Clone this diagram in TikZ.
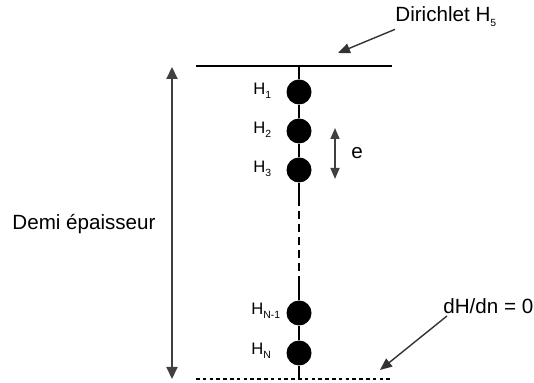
\documentclass[tikz,border=0pt]{standalone}
\usepackage{fontspec}
\setmainfont{Liberation Sans}
\usepackage{tikz}
\usetikzlibrary{arrows.meta, positioning}

\newcommand{\hsub}[1]{\raisebox{-0.45ex}{\fontsize{5.2}{6}\selectfont #1}}

\begin{document}
\begin{tikzpicture}[
    x=0.5pt, y=-0.5pt,
    % Styles
    grain/.style={circle, fill=black, minimum size=12.5pt, inner sep=0pt},
    hlabel/.style={anchor=west, inner sep=1pt, font=\fontsize{8.3}{10}\selectfont},
    txt/.style={inner sep=1pt, font=\fontsize{10.3}{12}\selectfont},
    axis/.style={line width=0.7pt},
    arrow/.style={-{Triangle[width=5pt,length=6pt]}, line width=0.7pt, draw=black!80},
    span/.style={{Triangle[width=5.5pt,length=6pt]}-{Triangle[width=5.5pt,length=6pt]}, line width=1pt, draw=black!75}
]
    \useasboundingbox (0,0) rectangle (534,383);

    % --- Boundaries ---
    \coordinate (topL) at (196,66);
    \coordinate (topR) at (392,66);
    \coordinate (topM) at (299,66);
    \coordinate (botL) at (196,379);
    \coordinate (botR) at (392,379);
    \coordinate (botM) at (299,379);
    \draw[line width=1pt] (topL) -- (topR);
    \draw[line width=1.2pt, dash pattern=on 1.8pt off 1.6pt] (botL) -- (botR);

    % --- Nodes of the mesh ---
    \node[grain] (h1) at (299,92) {};
    \node[grain] (h2) at (299,131) {};
    \node[grain] (h3) at (299,170) {};
    \node[grain] (hn1) at (299,313) {};
    \node[grain] (hn) at (299,353) {};

    \node[hlabel] (lh1) at (251,91) {H\hsub{1}};
    \node[hlabel] (lh2) at (251,130) {H\hsub{2}};
    \node[hlabel] (lh3) at (251,169) {H\hsub{3}};
    \node[hlabel] (lhn1) at (249,311) {H\hsub{N-1}};
    \node[hlabel] (lhn) at (249,351) {H\hsub{N}};

    % Vertical axis
    \coordinate (dashA) at (299,198);
    \coordinate (dashB) at (299,278);
    \draw[axis] (topM) -- (h1) -- (h2) -- (h3) -- (dashA);
    \draw[axis, dash pattern=on 4pt off 2.5pt] (dashA) -- (dashB);
    \draw[axis] (dashB) -- (hn1) -- (hn) -- (botM);

    % --- Spacing e ---
    \coordinate (eTop) at (335,128);
    \coordinate (eBot) at (335,179);
    \draw[span, line width=0.8pt, {Triangle[width=4.5pt,length=5.5pt]}-{Triangle[width=4.5pt,length=5.5pt]}] (eTop) -- (eBot);
    \node[txt] (elbl) at (357,153) {e};

    % --- Half thickness ---
    \coordinate (thTop) at (172,67);
    \coordinate (thBot) at (172,379);
    \draw[span] (thTop) -- (thBot);
    \node[txt] (demi) at (84,224) {Demi épaisseur};

    % --- Boundary conditions ---
    \node[txt, anchor=west] (dir) at (393,17) {Dirichlet H\hsub{5}};
    \coordinate (tipD) at (338,53);
    \draw[arrow] ([xshift=1pt]dir.south west) -- (tipD);

    \node[txt, anchor=west] (neu) at (441,306) {dH/dn = 0};
    \coordinate (tipN) at (380,370);
    \draw[arrow] ([xshift=3pt]neu.south west) -- (tipN);

\end{tikzpicture}
\end{document}
